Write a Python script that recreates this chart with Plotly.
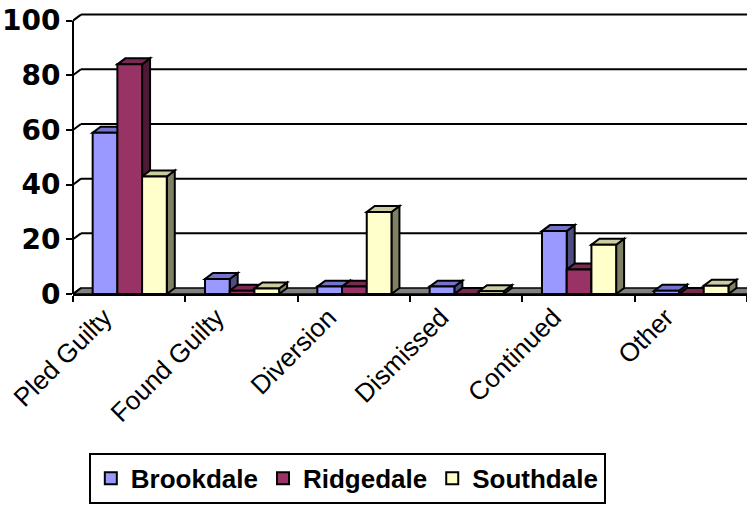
import plotly.graph_objects as go

categories = ["Pled Guilty", "Found Guilty", "Diversion", "Dismissed", "Continued", "Other"]
series_names = ["Brookdale", "Ridgedale", "Southdale"]
brookdale = [59, 5.5, 2.7, 2.7, 23, 1.2]
ridgedale = [84, 1.2, 2.7, 0, 9, 0]
southdale = [43, 2, 30, 1, 18, 3]
y_ticks = [0, 20, 40, 60, 80, 100]

values = [brookdale, ridgedale, southdale]
front_colors = ["#9999FF", "#993366", "#FFFFCC"]
top_colors = ["#7373CC", "#7A2952", "#CCCCA3"]
side_colors = ["#4D4D80", "#4D1A33", "#808066"]

FONT = "Liberation Sans, Arial, sans-serif"
off0 = -0.325   # offset of first bar from category centre (category units)
w = 0.22        # bar width (category units)
dx = 0.071      # depth offset, x (category units)
dy = 2.19       # depth offset, y (value units)
ymax = 104.6

def poly(pts):
    return "M " + " L ".join(f"{x:.4f},{y:.4f}" for x, y in pts) + " Z"

fig = go.Figure()
for j, name in enumerate(series_names):
    fig.add_trace(go.Bar(
        x=categories, y=values[j], name=name,
        width=w, offset=off0 + j * w,
        marker=dict(color=front_colors[j], line=dict(color="black", width=2)),
    ))

shapes = []
n = len(categories)
# floor
shapes.append(dict(type="path", xref="x", yref="y", layer="below",
                   path=poly([(-0.5, 0), (n - 0.5, 0), (n - 0.5 + dx, dy), (-0.5 + dx, dy)]),
                   fillcolor="#808080", line=dict(color="black", width=1.5)))
# back-wall gridlines and connectors
for t in y_ticks:
    if t > 0:
        shapes.append(dict(type="line", xref="x", yref="y", layer="below",
                           x0=-0.5 + dx, x1=n - 0.5 + dx, y0=t + dy, y1=t + dy,
                           line=dict(color="black", width=2)))
    shapes.append(dict(type="line", xref="x", yref="y", layer="below",
                       x0=-0.5, x1=-0.5 + dx, y0=t, y1=t + dy,
                       line=dict(color="black", width=2)))
# 3D faces of bars
for i in range(n):
    for j in range(len(series_names)):
        v = values[j][i]
        L = i + off0 + j * w
        R = L + w
        shapes.append(dict(type="path", xref="x", yref="y", layer="below",
                           path=poly([(R, 0), (R + dx, dy), (R + dx, v + dy), (R, v)]),
                           fillcolor=side_colors[j], line=dict(color="black", width=2)))
        shapes.append(dict(type="path", xref="x", yref="y", layer="below",
                           path=poly([(L, v), (R, v), (R + dx, v + dy), (L + dx, v + dy)]),
                           fillcolor=top_colors[j], line=dict(color="black", width=2)))
# front vertical axis line (0..100)
shapes.append(dict(type="line", xref="paper", yref="y", layer="above",
                   x0=0, x1=0, y0=0, y1=100, line=dict(color="black", width=2)))

fig.update_layout(
    width=747, height=508,
    margin=dict(l=73, r=0, t=8, b=214),
    paper_bgcolor="white", plot_bgcolor="white",
    barmode="overlay",
    shapes=shapes,
    font=dict(family=FONT, color="black"),
    xaxis=dict(type="category", range=[-0.5, n - 0.5], tickson="boundaries",
               ticks="outside", ticklen=6, tickwidth=2, tickcolor="black",
               showline=True, linecolor="black", linewidth=2,
               showgrid=False, zeroline=False, tickangle=-45,
               ticklabelshift=-25, ticklabelstandoff=-4,
               tickfont=dict(family=FONT, size=26, color="black")),
    yaxis=dict(range=[0, ymax], tickvals=y_ticks, ticks="outside", ticklen=6,
               tickwidth=2, tickcolor="black", showline=False, showgrid=False,
               zeroline=False,
               tickfont=dict(family="DejaVu Sans, sans-serif", size=28, color="black",
                             weight="bold")),
    legend=dict(orientation="h", x=0.407, xanchor="center", y=-0.555, yanchor="top",
                bordercolor="black", borderwidth=2, bgcolor="white",
                font=dict(family=FONT, size=26, color="black", weight="bold"),
                itemwidth=30, traceorder="normal"),
    showlegend=True,
)

fig.write_html("out.html")
